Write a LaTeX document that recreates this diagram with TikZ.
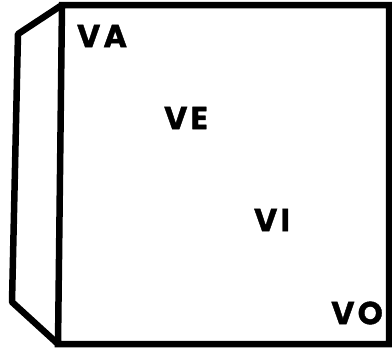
\documentclass[tikz,border=0pt]{standalone}
\usepackage{fontspec}
\setmainfont{Poppins}[BoldFeatures={FakeBold=1.2,LetterSpace=10}]
\begin{document}
\begin{tikzpicture}[x=1bp,y=-1bp,
  edge/.style={line width=6.5bp,line join=miter,line cap=butt},
  lbl/.style={font=\fontsize{32}{34}\selectfont\bfseries,inner sep=0pt}]
\useasboundingbox (0,0) rectangle (392,348);
\coordinate (ftl) at (62,5);
\coordinate (ftr) at (389,5);
\coordinate (fbr) at (389,344);
\coordinate (fbl) at (58,344);
\coordinate (stl) at (18,34);
\coordinate (sbl) at (12,302);
\draw[edge] (ftl) -- (ftr) -- (fbr) -- (fbl) -- cycle;
\draw[edge,line join=round] (ftl) -- (stl) -- (sbl) -- (fbl);
\node[lbl] (va) at (102,36) {VA};
\node[lbl] (ve) at (186,118) {VE};
\node[lbl] (vi) at (272,220) {VI};
\node[lbl] (vo) at (357,313) {VO};
\end{tikzpicture}
\end{document}
